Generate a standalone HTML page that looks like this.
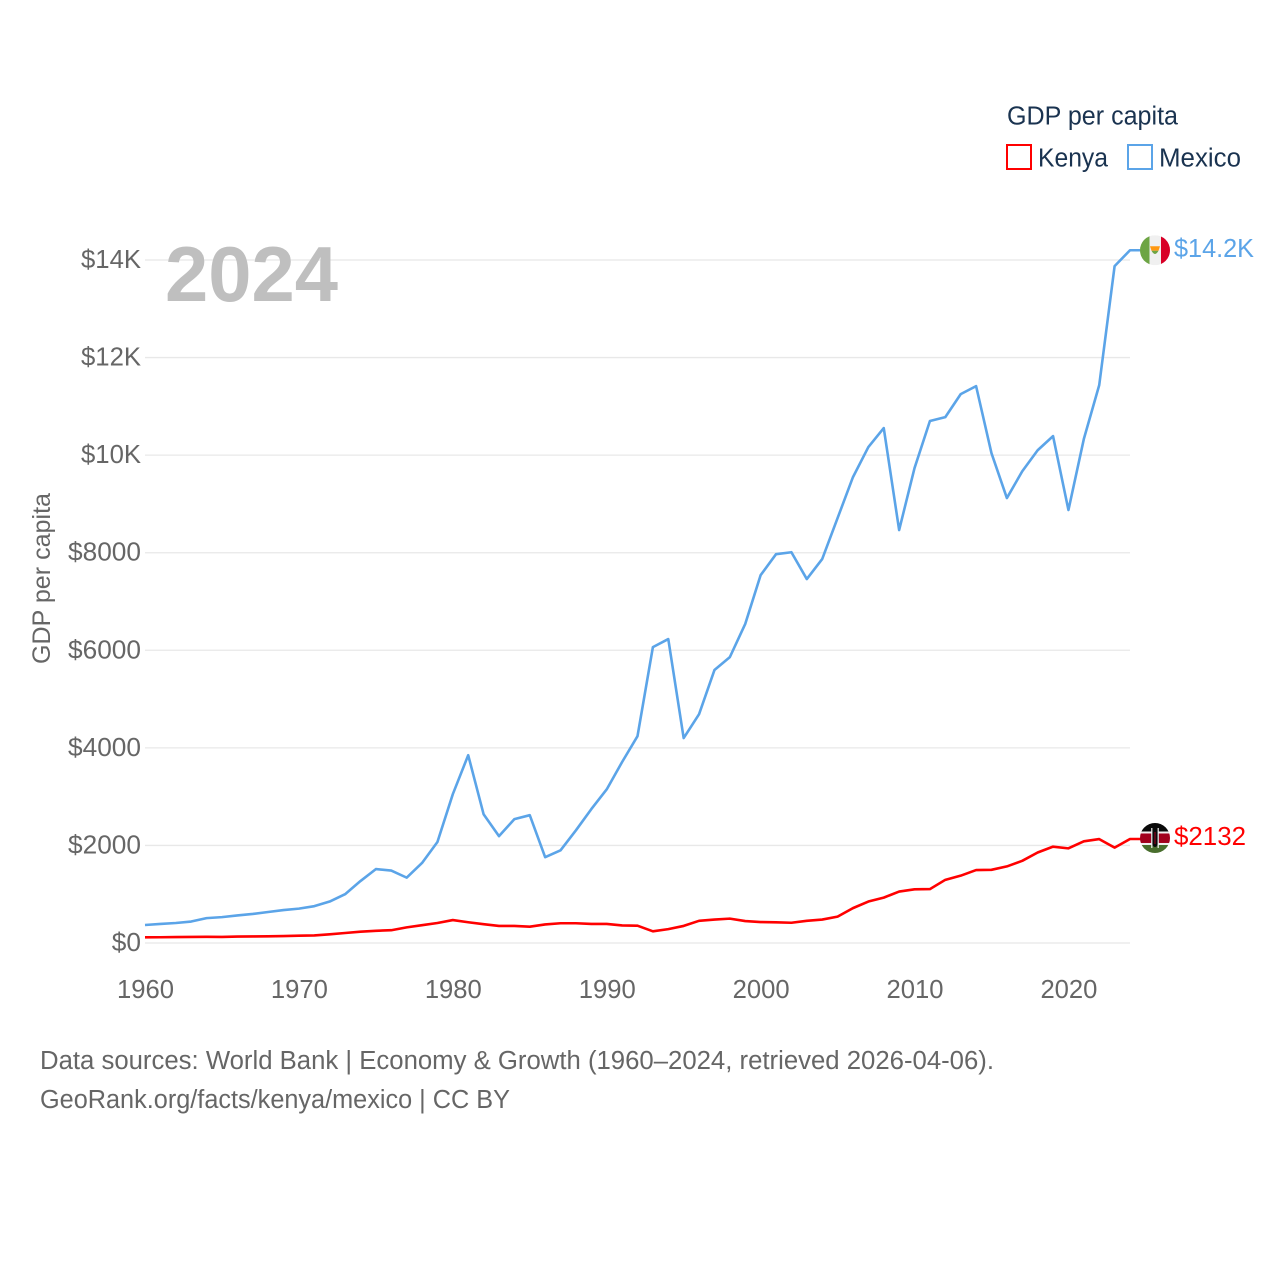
<!DOCTYPE html>
<html lang="en">
<head>
<meta charset="utf-8">
<title>GDP per capita: Kenya and Mexico</title>
<style>
html,body{margin:0;padding:0;background:#fff;}
svg{display:block;}
text{font-family:"Liberation Sans",sans-serif;}
</style>
</head>
<body>
<svg id="chart" xmlns="http://www.w3.org/2000/svg" width="1280" height="1280" viewBox="0 0 1280 1280">
  <rect width="1280" height="1280" fill="#ffffff"/>
  <g id="grid"></g>
  <g id="ytickg"></g>
  <g id="xtickg"></g>
  <text x="165" y="301" font-size="78" font-weight="bold" fill="#bfbfbf" textLength="173" lengthAdjust="spacingAndGlyphs">2024</text>
  <text transform="translate(50,664) rotate(-90)" font-size="25" fill="#666666" textLength="171" lengthAdjust="spacingAndGlyphs">GDP per capita</text>
  <g id="series"></g>

  <g id="flag-mexico">
    <clipPath id="clip-mx"><circle cx="15" cy="15" r="15"/></clipPath>
    <g clip-path="url(#clip-mx)">
      <rect x="0" y="0" width="30" height="30" fill="#f0f0f0"/>
      <rect x="0" y="0" width="9.5" height="30" fill="#6da544"/>
      <rect x="21" y="0" width="9" height="30" fill="#d80027"/>
      <path d="M10 11 L20 11 L18.5 15.5 L11.5 15.5 Z" fill="#ff9811"/>
      <path d="M11.5 15.5 Q15 22 18.5 15.5 Z" fill="#6da544"/>
    </g>
  </g>
  <g id="flag-kenya">
    <clipPath id="clip-ke"><circle cx="15" cy="15" r="15"/></clipPath>
    <g clip-path="url(#clip-ke)">
      <rect x="0" y="0" width="30" height="9" fill="#0a0a0a"/>
      <rect x="0" y="8.5" width="30" height="2" fill="#f0f0f0"/>
      <rect x="0" y="10.5" width="30" height="9.5" fill="#a2001d"/>
      <rect x="0" y="20" width="30" height="2" fill="#f0f0f0"/>
      <rect x="0" y="22" width="30" height="8" fill="#496e2d"/>
      <ellipse cx="15" cy="15" rx="4" ry="9" fill="#0a0a0a"/>
      <rect x="11.2" y="5" width="1.2" height="20" fill="#f0f0f0"/>
      <rect x="17.6" y="5" width="1.2" height="20" fill="#f0f0f0"/>
      <rect x="14.5" y="9" width="1" height="12" fill="#a2001d"/>
    </g>
  </g>
  <g id="end-labels"></g>

  <g>
    <text x="1007" y="124.5" font-size="25.5" fill="#1a3350" textLength="171" lengthAdjust="spacingAndGlyphs">GDP per capita</text>
    <g>
      <rect x="1007" y="145" width="24" height="24" fill="#ffffff" stroke="#ff0000" stroke-width="2"/>
      <text x="1038" y="166.5" font-size="25.5" fill="#1a3350" textLength="70" lengthAdjust="spacingAndGlyphs">Kenya</text>
    </g>
    <g>
      <rect x="1128" y="145" width="24" height="24" fill="#ffffff" stroke="#5ba4e8" stroke-width="2"/>
      <text x="1159" y="166.5" font-size="25.5" fill="#1a3350" textLength="82" lengthAdjust="spacingAndGlyphs">Mexico</text>
    </g>
  </g>

  <g>
    <text x="40" y="1069" font-size="25.5" fill="#666666" textLength="954" lengthAdjust="spacingAndGlyphs">Data sources: World Bank | Economy &amp; Growth (1960–2024, retrieved 2026-04-06).</text>
    <text x="40" y="1108" font-size="25.5" fill="#666666" textLength="470" lengthAdjust="spacingAndGlyphs">GeoRank.org/facts/kenya/mexico | CC BY</text>
  </g>
</svg>
<script>
const startYear = 1960;
const xTickYears = [1960, 1970, 1980, 1990, 2000, 2010, 2020];
const yTickValues = [0, 2000, 4000, 6000, 8000, 10000, 12000, 14000];
const yTickLabels = ["$0", "$2000", "$4000", "$6000", "$8000", "$10K", "$12K", "$14K"];
const mexicoValues = [369, 390, 410, 440, 510, 530, 565, 595, 635, 675, 705, 755, 850, 1000, 1270, 1515, 1485, 1340, 1640, 2070, 3050, 3850, 2640, 2190, 2540, 2620, 1760, 1900, 2310, 2745, 3150, 3710, 4240, 6065, 6230, 4200, 4690, 5595, 5860, 6540, 7540, 7970, 8010, 7460, 7870, 8710, 9550, 10165, 10555, 8465, 9735, 10700, 10780, 11250, 11415, 10040, 9120, 9670, 10100, 10390, 8875, 10330, 11435, 13875, 14200];
const kenyaValues = [117, 118, 122, 124, 126, 124, 132, 135, 138, 142, 150, 155, 178, 205, 232, 250, 262, 320, 365, 410, 470, 425, 385, 350, 350, 335, 380, 405, 405, 390, 390, 360, 355, 240, 285, 350, 455, 480, 500, 450, 430, 425, 415, 455, 480, 540, 715, 850, 930, 1055, 1100, 1105, 1295, 1380, 1495, 1500, 1570, 1685, 1855, 1975, 1940, 2085, 2130, 1955, 2132];
const mexicoEndLabel = "$14.2K";
const kenyaEndLabel = "$2132";

const NS = "http://www.w3.org/2000/svg";
function xScale(year) { return 145 + (year - 1960) * (1130 - 145) / 64; }
function yScale(value) { return 943 - value * (943 - 260) / 14000; }
function make(tag, attrs, parent) {
  const el = document.createElementNS(NS, tag);
  for (const k in attrs) el.setAttribute(k, attrs[k]);
  parent.appendChild(el);
  return el;
}

const grid = document.getElementById("grid");
const ytickg = document.getElementById("ytickg");
const xtickg = document.getElementById("xtickg");
const series = document.getElementById("series");
const endLabels = document.getElementById("end-labels");

yTickValues.forEach(function (v, i) {
  const line = make("line", {x1: 145, x2: 1130, y1: yScale(v), y2: yScale(v), stroke: "#e8e8e8", "stroke-width": 1.3}, grid);
  
  
  const t = make("text", {x: 141, y: yScale(v) + 8, "text-anchor": "end", "font-size": 25.5, fill: "#666666"}, ytickg);
  
  
  t.setAttribute("textLength", yTickLabels[i].length * (yTickLabels[i].indexOf("K") > 0 ? 15 : 14.6));
  t.setAttribute("lengthAdjust", "spacingAndGlyphs");
  t.textContent = yTickLabels[i];
});

xTickYears.forEach(function (year) {
  const t = make("text", {x: xScale(year) - 28, y: 998, "font-size": 25.5, fill: "#666666", textLength: 57, lengthAdjust: "spacingAndGlyphs"}, xtickg);
  
  
  t.textContent = String(year);
});

function linePoints(values) {
  const pts = values.map(function (v, i) { return xScale(startYear + i).toFixed(2) + "," + yScale(v).toFixed(2); });
  const last = values[values.length - 1];
  pts.push("1142," + yScale(last).toFixed(2));
  return pts.join(" ");
}

const mexicoLine = make("polyline", {points: linePoints(mexicoValues), fill: "none", stroke: "#5ba4e8", "stroke-width": 2.6, "stroke-linejoin": "round"}, series);


const kenyaLine = make("polyline", {points: linePoints(kenyaValues), fill: "none", stroke: "#ff0000", "stroke-width": 2.6, "stroke-linejoin": "round"}, series);



const mexicoEndY = yScale(mexicoValues[mexicoValues.length - 1]);
const kenyaEndY = yScale(kenyaValues[kenyaValues.length - 1]);
document.getElementById("flag-mexico").setAttribute("transform", "translate(1140," + (mexicoEndY - 15) + ")");
document.getElementById("flag-kenya").setAttribute("transform", "translate(1140," + (kenyaEndY - 16) + ")");

const mexicoLabel = make("text", {x: 1174, y: mexicoEndY + 7, "font-size": 25.5, fill: "#5ba4e8", textLength: 80, lengthAdjust: "spacingAndGlyphs"}, endLabels);


mexicoLabel.textContent = mexicoEndLabel;
const kenyaLabel = make("text", {x: 1174, y: kenyaEndY + 6, "font-size": 25.5, fill: "#ff0000", textLength: 72, lengthAdjust: "spacingAndGlyphs"}, endLabels);


kenyaLabel.textContent = kenyaEndLabel;
</script>
</body>
</html>
